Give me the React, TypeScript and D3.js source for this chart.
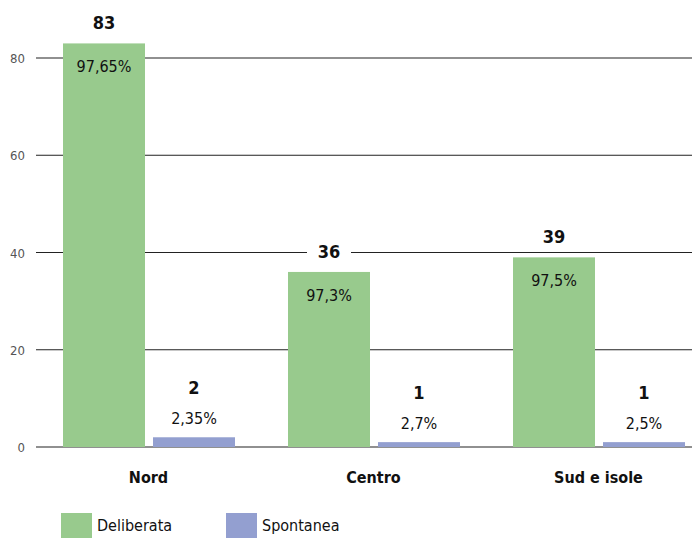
import * as d3 from "d3";

const regions = ["Nord", "Centro", "Sud e isole"];
const series = ["Deliberata", "Spontanea"];
const deliberata = [83, 36, 39];
const spontanea = [2, 1, 1];
const deliberataPct = ["97,65%", "97,3%", "97,5%"];
const spontaneaPct = ["2,35%", "2,7%", "2,5%"];
const yTicks = [0, 20, 40, 60, 80];

const W = 692;
const H = 538;
const colors = ["#98ca8d", "#939fd0"];
const font = "'Liberation Sans Narrow', 'DejaVu Sans Condensed', 'Open Sans', sans-serif";

export default function App() {
  const y = d3.scaleLinear().domain([0, 80]).range([447, 58]);
  const x0 = d3.scaleBand<string>().domain(regions).range([36, 711]).paddingInner(0).paddingOuter(0);
  // inner band: 82px bars with an 8px gap
  const x1 = d3
    .scaleBand<string>()
    .domain(series)
    .range([27, 199])
    .paddingInner(8 / 90);

  const values = [deliberata, spontanea];
  const pcts = [deliberataPct, spontaneaPct];

  return (
    <svg
      width={W}
      height={H}
      style={{ position: "absolute", left: 0, top: 0, fontFamily: font, background: "#fff" }}
    >
      {yTicks.map((t) => (
        <g key={t}>
          <line x1={36} x2={W} y1={y(t)} y2={y(t)} stroke="#222" strokeWidth={1.2} />
          <text x={25} y={y(t) + 5} textAnchor="end" fontSize={13} fill="#555">
            {t}
          </text>
        </g>
      ))}
      {regions.map((r, i) => (
        <g key={r} transform={`translate(${x0(r)},0)`}>
          {series.map((s, j) => {
            const v = values[j][i];
            const bx = x1(s) ?? 0;
            const bw = x1.bandwidth();
            const top = y(v);
            const cx = bx + bw / 2;
            const boldY = j === 0 ? top - 14 : top - 43;
            const pctY = j === 0 ? top + 29 : top - 13;
            return (
              <g key={s}>
                <rect x={bx} y={top} width={bw} height={y(0) - top} fill={colors[j]} />
                <rect x={cx - 22} y={boldY - 17} width={44} height={22} fill="#fff" />
                <text x={cx} y={boldY} textAnchor="middle" fontSize={18} fontWeight="bold" fill="#111">
                  {v}
                </text>
                <text x={cx} y={pctY} textAnchor="middle" fontSize={16} fill="#111">
                  {pcts[j][i]}
                </text>
              </g>
            );
          })}
          <text
            x={x0.bandwidth() / 2}
            y={483}
            textAnchor="middle"
            fontSize={16}
            fontWeight="bold"
            fill="#111"
          >
            {r}
          </text>
        </g>
      ))}
      {series.map((s, j) => (
        <g key={s} transform={`translate(${61 + j * 165},513)`}>
          <rect x={0} y={0} width={31} height={26} fill={colors[j]} />
          <text x={36} y={18} fontSize={16} fill="#111">
            {s}
          </text>
        </g>
      ))}
    </svg>
  );
}
